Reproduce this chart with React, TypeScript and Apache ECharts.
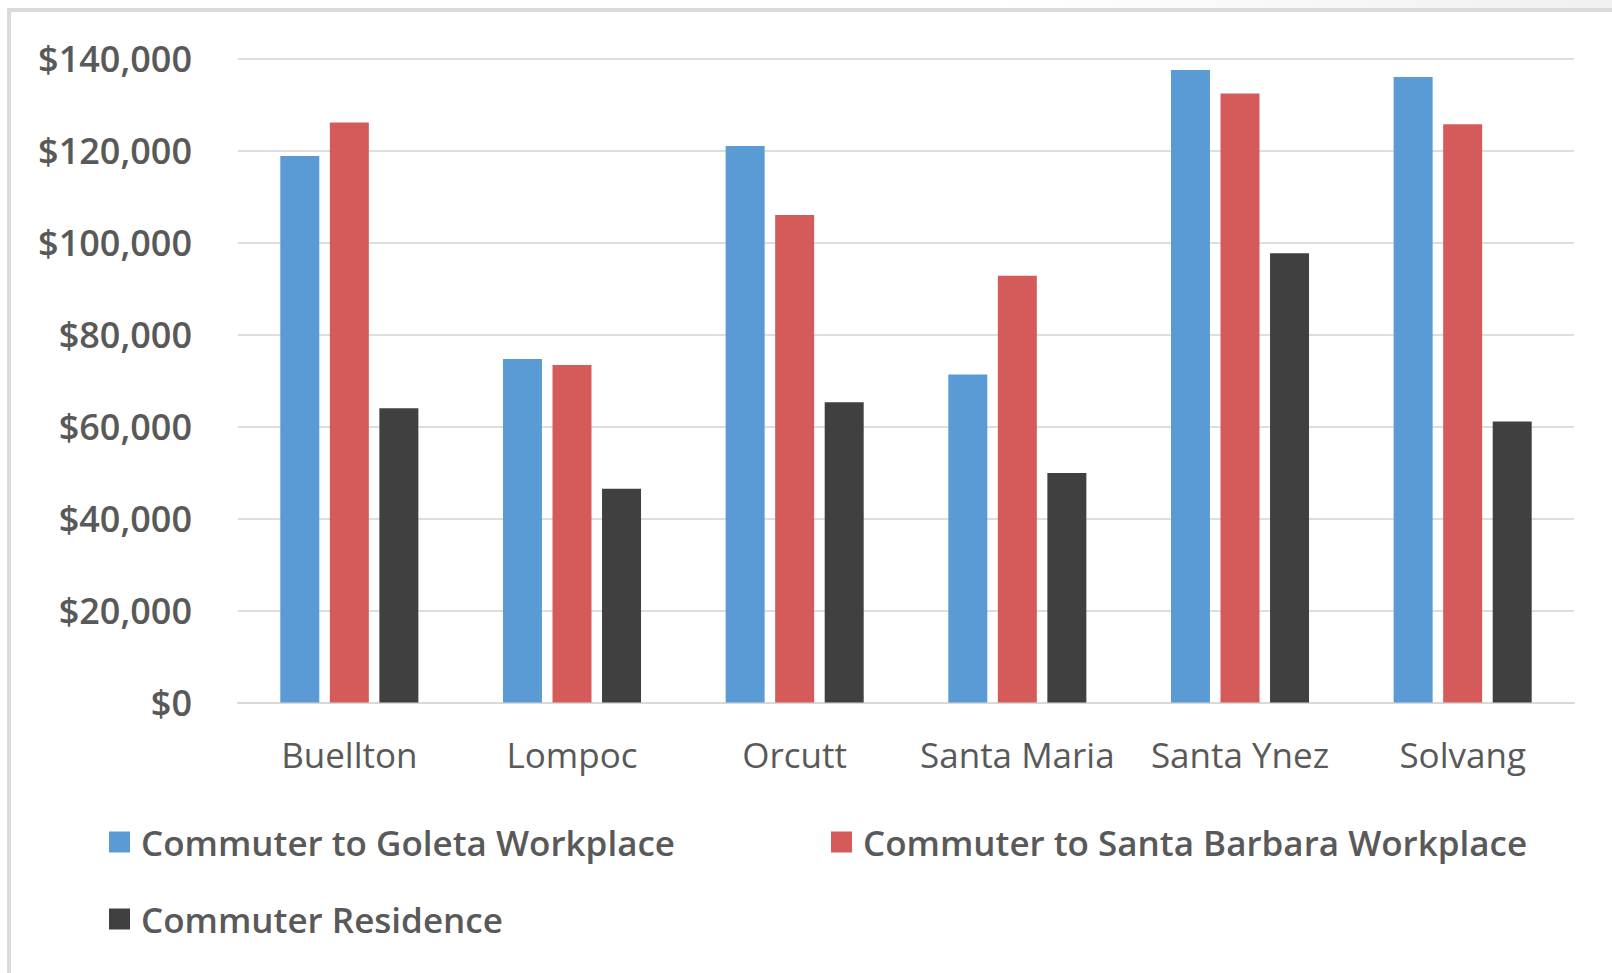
import React, { useEffect, useRef } from "react";
import * as echarts from "echarts";

const categories = ["Buellton", "Lompoc", "Orcutt", "Santa Maria", "Santa Ynez", "Solvang"];
const goleta = [118800, 74700, 121000, 71300, 137500, 136000];
const santaBarbara = [126100, 73400, 106000, 92800, 132400, 125700];
const residence = [64000, 46500, 65300, 49900, 97700, 61100];
const seriesNames = [
  "Commuter to Goleta Workplace",
  "Commuter to Santa Barbara Workplace",
  "Commuter Residence",
];
const colors = ["#5B9BD5", "#D55A5A", "#404040"];

const FONT = "'Open Sans', sans-serif";

export default function App() {
  const ref = useRef<HTMLDivElement>(null);
  useEffect(() => {
    if (!ref.current) return;
    const chart = echarts.init(ref.current, null, { renderer: "svg" });
    const legendText = {
      color: "#595959",
      fontFamily: FONT,
      fontSize: 35,
      fontWeight: 600,
      lineHeight: 38,
      padding: [0, 0, 0, 6],
    };
    const legendBase = {
      orient: "horizontal",
      icon: "rect",
      itemWidth: 21,
      itemHeight: 21,
      textStyle: legendText,
      selectedMode: false,
    };
    chart.setOption({
      animation: false,
      backgroundColor: "#ffffff",
      color: colors,
      graphic: [
        {
          type: "rect",
          shape: { x: 1000, y: 0, width: 612, height: 9 },
          style: {
            fill: new echarts.graphic.LinearGradient(0, 0, 1, 0, [
              { offset: 0, color: "#ffffff" },
              { offset: 1, color: "#f0f0f0" },
            ]),
          },
          silent: true,
        },
        {
          type: "rect",
          shape: { x: 9, y: 10, width: 1800, height: 1200 },
          style: { fill: "none", stroke: "#dadada", lineWidth: 4 },
          silent: true,
        },
      ],
      grid: {
        left: 238,
        right: 38,
        top: 58.6,
        bottom: 270.5,
        containLabel: false,
        outerBoundsMode: "none",
      },
      legend: [
        { ...legendBase, data: [seriesNames[0]], left: 104, top: 818 },
        { ...legendBase, data: [seriesNames[1]], left: 826, top: 818 },
        { ...legendBase, data: [seriesNames[2]], left: 104, top: 895 },
      ],
      xAxis: {
        type: "category",
        data: categories,
        axisTick: { show: false },
        axisLine: { show: true, lineStyle: { color: "#d9d9d9", width: 2 } },
        axisLabel: {
          interval: 0,
          color: "#595959",
          fontFamily: FONT,
          fontSize: 35,
          fontWeight: 400,
          margin: 34,
        },
      },
      yAxis: {
        type: "value",
        min: 0,
        max: 140000,
        interval: 20000,
        axisLine: { show: false },
        axisTick: { show: false },
        splitLine: { lineStyle: { color: "#dedede", width: 2 } },
        axisLabel: {
          color: "#595959",
          fontFamily: FONT,
          fontSize: 36,
          fontWeight: 600,
          margin: 46,
          formatter: (v: number) => "$" + v.toLocaleString("en-US"),
        },
      },
      series: [
        { name: seriesNames[0], type: "bar", data: goleta, barWidth: 39, barGap: "27%" },
        { name: seriesNames[1], type: "bar", data: santaBarbara, barWidth: 39, barGap: "27%" },
        { name: seriesNames[2], type: "bar", data: residence, barWidth: 39, barGap: "27%" },
      ],
    });
    return () => chart.dispose();
  }, []);
  return (
    <div
      ref={ref}
      style={{ position: "absolute", left: 0, top: 0, width: 1612, height: 973 }}
    />
  );
}
